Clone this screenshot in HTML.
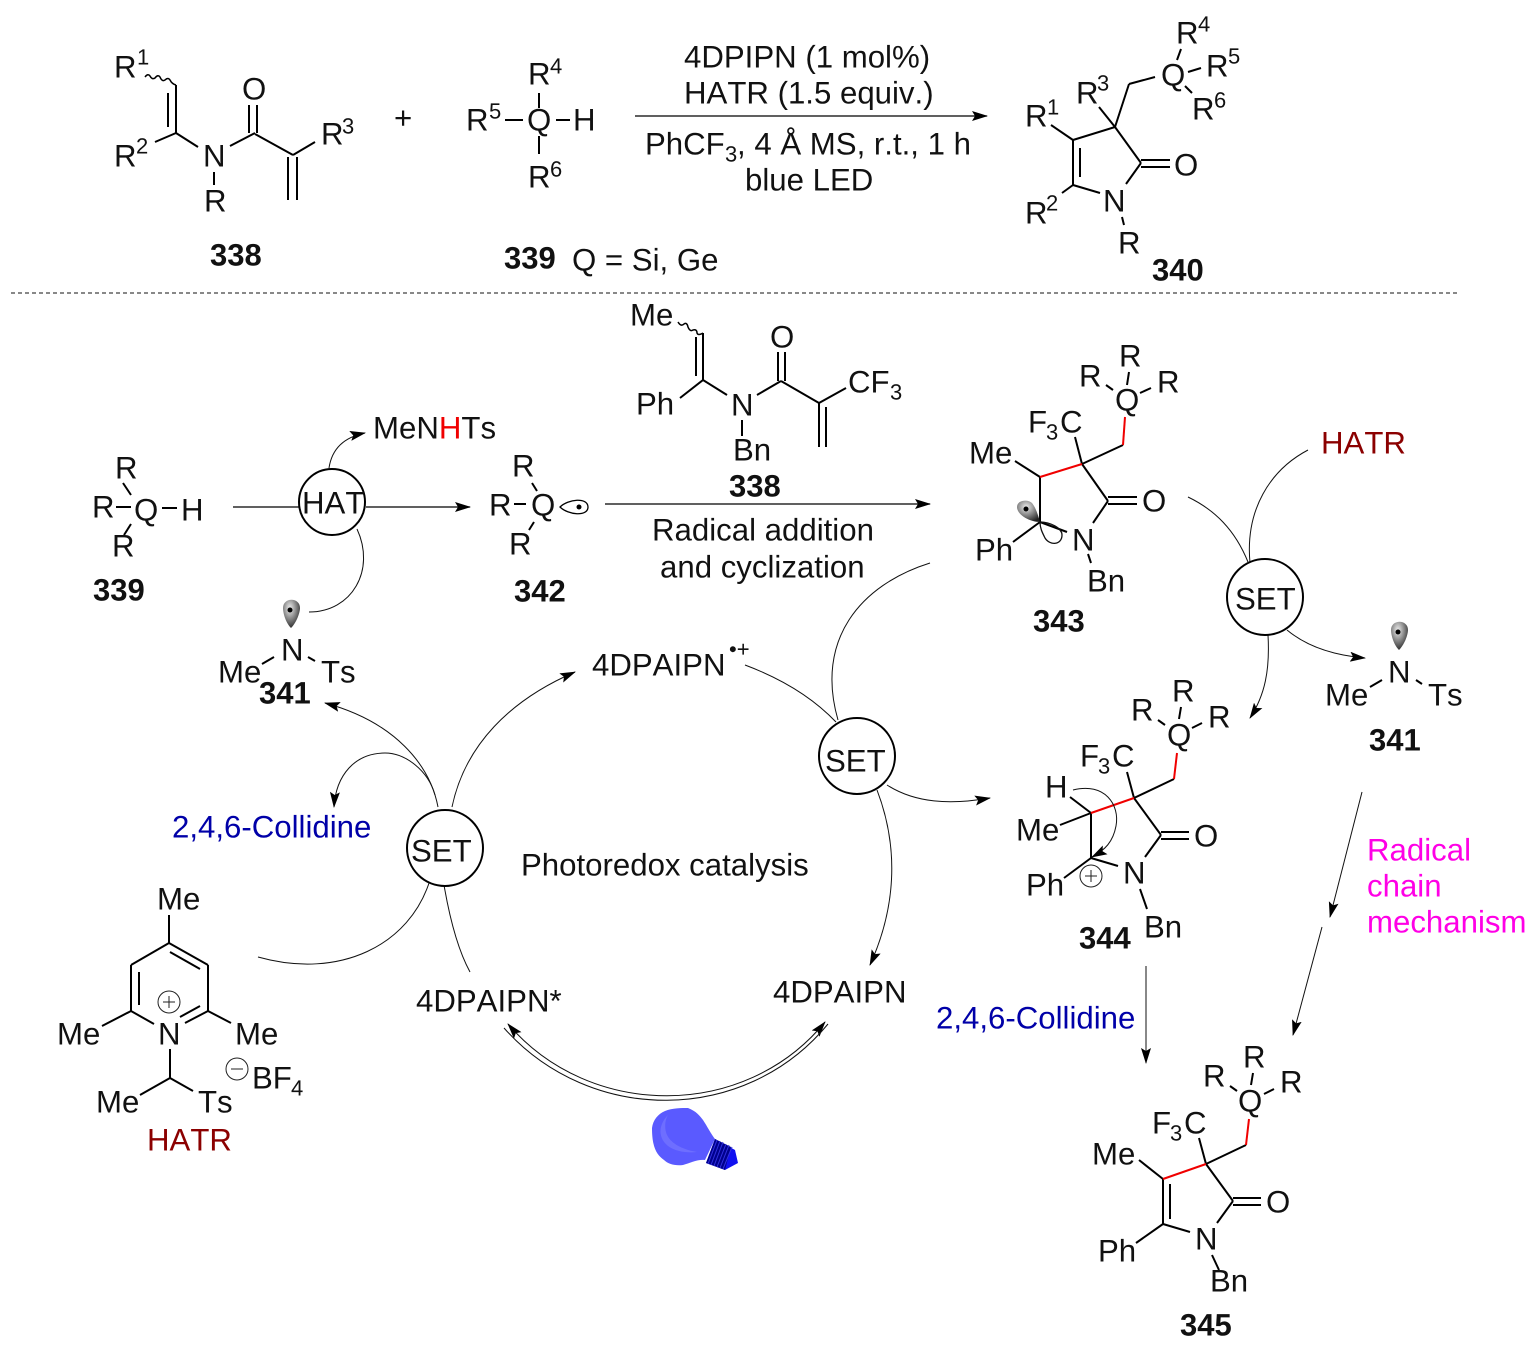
<!DOCTYPE html>
<html><head><meta charset="utf-8"><style>
html,body{margin:0;padding:0;background:#fff}
svg{display:block}
text{font-family:"Liberation Sans",sans-serif;font-size:31.2px;fill:#111;font-kerning:none;text-rendering:geometricPrecision;transform:translate(0px,0.4px)}
.b{font-weight:bold;font-size:31px}
.s{font-size:22px}
.k line,.k polyline{stroke:#000;stroke-width:2;fill:none}
.r line{stroke:#f00000;stroke-width:2;fill:none}
.t path,.t line{stroke:#111;stroke-width:1;fill:none}
.c{fill:#fff;stroke:#000;stroke-width:2}
</style></head><body>
<svg width="1536" height="1353" viewBox="0 0 1536 1353" xmlns="http://www.w3.org/2000/svg">
<defs>
<marker id="a" viewBox="0 0 16 10" refX="15" refY="5" markerWidth="16" markerHeight="10" markerUnits="userSpaceOnUse" orient="auto"><path d="M0,0 L16,5 L0,10 L3,5z" fill="#000"/></marker>
<marker id="as" viewBox="0 0 16 10" refX="15" refY="5" markerWidth="16" markerHeight="10" markerUnits="userSpaceOnUse" orient="auto-start-reverse"><path d="M0,0 L16,5 L0,10 L3,5z" fill="#000"/></marker>
<radialGradient id="g" cx="0.4" cy="0.3" r="0.75"><stop offset="0" stop-color="#eee"/><stop offset="1" stop-color="#222"/></radialGradient>
</defs>

<!-- Top reaction: 338 -->
<g class="k">
<line x1="176" y1="85" x2="176" y2="133"/><line x1="168" y1="93" x2="168" y2="127"/>
<line x1="176" y1="133" x2="155" y2="142"/><line x1="176" y1="133" x2="198" y2="147"/>
<line x1="214" y1="172" x2="214" y2="185"/><line x1="230" y1="146" x2="255" y2="133"/>
<line x1="249" y1="133" x2="249" y2="105"/><line x1="257" y1="133" x2="257" y2="105"/>
<line x1="255" y1="134" x2="293" y2="155"/><line x1="293" y1="155" x2="315" y2="142"/>
<line x1="288" y1="157" x2="288" y2="200"/><line x1="297" y1="157" x2="297" y2="200"/>
<line x1="505" y1="120" x2="523" y2="120"/><line x1="556" y1="120" x2="570" y2="120"/>
<line x1="539" y1="93" x2="539" y2="108"/><line x1="539" y1="136" x2="539" y2="154"/>
</g>
<path d="M145,77 q3,-4 5,-1 q2,4 5,2 q3,-4 5,-1 q2,5 5,3 q3,-3 5,0 q2,4 6,5" fill="none" stroke="#000" stroke-width="1.5"/>
<text x="114" y="77">R</text><text class="s" x="137" y="64">1</text>
<text x="114" y="166">R</text><text class="s" x="136" y="153">2</text>
<text x="203" y="166">N</text><text x="204" y="211">R</text><text x="242" y="99">O</text>
<text x="321" y="144">R</text><text class="s" x="342" y="133">3</text>
<text x="394" y="128">+</text>
<text class="b" x="210" y="265">338</text>

<text x="528" y="84">R</text><text class="s" x="550" y="73">4</text>
<text x="466" y="130">R</text><text class="s" x="489" y="118">5</text>
<text x="527" y="130">Q</text><text x="573" y="130">H</text>
<text x="528" y="187">R</text><text class="s" x="550" y="176">6</text>
<text class="b" x="504" y="268">339</text><text x="572" y="270">Q = Si, Ge</text>

<line x1="635" y1="116" x2="987" y2="116" stroke="#000" stroke-width="1.3" marker-end="url(#a)"/>
<text x="684" y="67">4DPIPN (1 mol%)</text>
<text x="684" y="103">HATR (1.5 equiv.)</text>
<text x="645" y="154">PhCF</text><text class="s" x="725" y="161">3</text><text x="737" y="154" xml:space="preserve">, 4 Å MS, r.t., 1 h</text>
<text x="745" y="190">blue LED</text>

<!-- 340 -->
<g class="k">
<line x1="1073" y1="140" x2="1115" y2="127"/><line x1="1115" y1="127" x2="1141" y2="163"/>
<line x1="1141" y1="160" x2="1170" y2="160"/><line x1="1141" y1="167" x2="1170" y2="167"/>
<line x1="1126" y1="184" x2="1141" y2="163"/><line x1="1100" y1="193" x2="1073" y2="185"/>
<line x1="1073" y1="185" x2="1073" y2="140"/><line x1="1080" y1="177" x2="1080" y2="148"/>
<line x1="1073" y1="185" x2="1062" y2="193"/><line x1="1073" y1="140" x2="1051" y2="125"/>
<line x1="1115" y1="127" x2="1099" y2="107"/><line x1="1115" y1="127" x2="1129" y2="84"/>
<line x1="1129" y1="84" x2="1155" y2="77"/><line x1="1181" y1="49" x2="1177" y2="60"/>
<line x1="1188" y1="72" x2="1201" y2="68"/><line x1="1185" y1="86" x2="1192" y2="93"/>
<line x1="1122" y1="217" x2="1124" y2="225"/>
</g>
<text x="1176" y="43">R</text><text class="s" x="1198" y="31">4</text>
<text x="1206" y="76">R</text><text class="s" x="1228" y="63">5</text>
<text x="1161" y="85">Q</text>
<text x="1192" y="119">R</text><text class="s" x="1214" y="107">6</text>
<text x="1076" y="103">R</text><text class="s" x="1097" y="90">3</text>
<text x="1025" y="126">R</text><text class="s" x="1047" y="114">1</text>
<text x="1174" y="175">O</text><text x="1103" y="211">N</text>
<text x="1025" y="223">R</text><text class="s" x="1046" y="210">2</text>
<text x="1118" y="253">R</text>
<text class="b" x="1152" y="280">340</text>

<line x1="11" y1="293" x2="1458" y2="293" stroke="#111" stroke-width="1" stroke-dasharray="4,3"/>

<!-- lower 338 -->
<g class="k">
<line x1="703" y1="333" x2="703" y2="380"/><line x1="696" y1="337" x2="696" y2="376"/>
<line x1="703" y1="380" x2="680" y2="398"/><line x1="703" y1="380" x2="727" y2="395"/>
<line x1="742" y1="420" x2="742" y2="436"/><line x1="757" y1="395" x2="781" y2="381"/>
<line x1="778" y1="381" x2="778" y2="352"/><line x1="785" y1="381" x2="785" y2="352"/>
<line x1="781" y1="381" x2="819" y2="403"/><line x1="819" y1="403" x2="846" y2="388"/>
<line x1="819" y1="403" x2="819" y2="447"/><line x1="826" y1="407" x2="826" y2="447"/>
</g>
<path d="M678,322 q3,5 6,2 q3,-2 4,3 q2,5 5,3 q4,-1 4,3 q1,3 6,0" fill="none" stroke="#000" stroke-width="1.5"/>
<text x="630" y="325">Me</text><text x="636" y="414">Ph</text><text x="731" y="415">N</text>
<text x="733" y="460">Bn</text><text x="770" y="347">O</text>
<text x="848" y="392">CF</text><text class="s" x="890" y="399">3</text>
<text class="b" x="729" y="496">338</text>

<line x1="605" y1="504" x2="930" y2="504" stroke="#000" stroke-width="1.3" marker-end="url(#a)"/>
<text x="652" y="540">Radical addition</text>
<text x="660" y="577">and cyclization</text>

<!-- left 339 -->
<g class="k">
<line x1="123" y1="483" x2="131" y2="495"/><line x1="116" y1="507" x2="131" y2="507"/>
<line x1="131" y1="524" x2="124" y2="535"/><line x1="162" y1="508" x2="177" y2="508"/>
</g>
<text x="115" y="478">R</text><text x="92" y="517">R</text><text x="134" y="520">Q</text>
<text x="181" y="520">H</text><text x="112" y="556">R</text>
<text class="b" x="93" y="600">339</text>

<line x1="233" y1="507" x2="300" y2="507" stroke="#000" stroke-width="1.3"/>
<line x1="366" y1="507" x2="470" y2="507" stroke="#000" stroke-width="1.3" marker-end="url(#a)"/>
<circle class="c" cx="332" cy="502" r="33"/>
<text x="302" y="513">HAT</text>
<g class="t">
<path d="M329,468 C332,448 345,437 365,433" marker-end="url(#a)"/>
<path d="M357,529 C376,570 352,612 309,612"/>
</g>
<text x="373" y="438">MeN<tspan style="fill:#f00000">H</tspan>Ts</text>

<!-- 342 -->
<g class="k">
<line x1="532" y1="483" x2="537" y2="491"/><line x1="514" y1="504" x2="526" y2="504"/>
<line x1="534" y1="522" x2="529" y2="530"/>
</g>
<text x="512" y="476">R</text><text x="489" y="515">R</text><text x="531" y="515">Q</text><text x="509" y="554">R</text>
<path d="M560,507 C568,499 588,497 588,507 C588,517 568,515 560,507z" fill="#fff" stroke="#000" stroke-width="1.3"/>
<circle cx="579" cy="507" r="2.5" fill="#000"/>
<text class="b" x="514" y="601">342</text>

<!-- 341 left -->
<path d="M291,628 C285,622 283,612 283,608 C283,597 300,597 300,608 C300,612 297,622 291,628z" fill="url(#g)"/>
<circle cx="290" cy="610" r="2.5" fill="#000"/>
<g class="k"><line x1="262" y1="664" x2="274" y2="657"/><line x1="308" y1="657" x2="315" y2="661"/></g>
<text x="281" y="660">N</text><text x="218" y="682">Me</text><text x="321" y="682">Ts</text>
<text class="b" x="259" y="703">341</text>

<!-- Photoredox cycle -->
<g class="t">
<path d="M438,807 C430,765 395,722 325,703" marker-end="url(#a)"/>
<path d="M435,795 C428,770 405,753 385,753 C355,753 336,775 334,807" marker-end="url(#a)"/>
<path d="M452,807 C465,745 510,700 575,672" marker-end="url(#a)"/>
<path d="M745,665 C785,680 815,700 836,722"/>
<path d="M930,563 C860,585 815,640 838,720"/>
<path d="M887,785 C915,803 950,805 990,798" marker-end="url(#a)"/>
<path d="M877,790 C900,850 895,910 870,965" marker-end="url(#a)"/>
<path d="M430,880 C410,945 340,980 258,957"/>
<path d="M444,885 C450,920 458,950 470,972"/>
<path d="M508,1024 C590,1120 745,1120 825,1022" marker-start="url(#as)" marker-end="url(#a)"/>
<path d="M504,1028 C590,1125 745,1125 828,1024"/>
</g>
<circle class="c" cx="445" cy="848" r="38"/><text x="411" y="861">SET</text>
<circle class="c" cx="857" cy="756" r="38"/><text x="825" y="771">SET</text>
<text x="592" y="675">4DPAIPN</text><text class="s" x="729" y="656">•+</text>
<text x="172" y="837" style="fill:#0000a8">2,4,6-Collidine</text>
<text x="521" y="875">Photoredox catalysis</text>
<text x="416" y="1011">4DPAIPN*</text><text x="773" y="1002">4DPAIPN</text>

<!-- bulb -->
<path d="M652,1128 C653,1120 658,1114 665,1111 C672,1108 682,1108 688,1108 C696,1111 700,1116 703,1120 C707,1126 711,1134 715,1139 L705,1160 C698,1159 690,1163 683,1165 C675,1166 668,1164 664,1160 C657,1155 652,1148 652,1128z" fill="#5a5aff"/>
<path d="M668,1115 C658,1125 658,1138 668,1146 C676,1152 688,1153 697,1152 C685,1150 672,1145 667,1135 C664,1128 665,1120 668,1115z" fill="#6e6eff"/>
<path d="M715,1139 L735,1150 L738,1163 L725,1170 L706,1163z" fill="#1010f0"/>
<path d="M715,1139 L731,1147 L725,1170 L706,1163z" fill="#00008c"/>
<path d="M717,1140 L708,1164 M720,1141 L711,1165 M723,1142 L714,1166 M726,1144 L717,1167 M729,1145 L720,1168 M732,1147 L723,1169" stroke="#3030e0" stroke-width="1"/>

<!-- pyridinium HATR -->
<g class="k">
<line x1="169" y1="915" x2="169" y2="943"/><line x1="169" y1="943" x2="208" y2="965"/><line x1="170" y1="952" x2="200" y2="969"/>
<line x1="208" y1="965" x2="208" y2="1011"/><line x1="169" y1="943" x2="131" y2="965"/>
<line x1="131" y1="965" x2="131" y2="1011"/><line x1="139" y1="972" x2="139" y2="1005"/>
<line x1="208" y1="1011" x2="185" y2="1023"/><line x1="200" y1="1006" x2="180" y2="1017"/>
<line x1="131" y1="1011" x2="154" y2="1024"/><line x1="208" y1="1011" x2="231" y2="1023"/>
<line x1="131" y1="1011" x2="102" y2="1026"/><line x1="170" y1="1049" x2="170" y2="1078"/>
<line x1="170" y1="1078" x2="140" y2="1095"/><line x1="170" y1="1078" x2="193" y2="1091"/>
</g>
<text x="157" y="909">Me</text><text x="158" y="1044">N</text>
<text x="57" y="1044">Me</text><text x="235" y="1044">Me</text>
<text x="96" y="1112">Me</text><text x="198" y="1112">Ts</text>
<text x="147" y="1150" style="fill:#8b0000">HATR</text>
<text x="252" y="1088">BF</text><text class="s" x="291" y="1095">4</text>
<g fill="none" stroke="#222" stroke-width="1">
<circle cx="169" cy="1002" r="11"/><path d="M163,1002H175M169,996V1008"/>
<circle cx="237" cy="1069" r="11"/><path d="M231,1069H243"/>
</g>

<!-- 343 -->
<g class="k">
<line x1="1129" y1="372" x2="1127" y2="385"/><line x1="1106" y1="385" x2="1113" y2="390"/>
<line x1="1140" y1="393" x2="1151" y2="388"/><line x1="1123" y1="445" x2="1082" y2="464"/>
<line x1="1075" y1="437" x2="1082" y2="464"/><line x1="1015" y1="461" x2="1040" y2="477"/>
<line x1="1040" y1="477" x2="1040" y2="522"/><line x1="1082" y1="464" x2="1108" y2="501"/>
<line x1="1108" y1="497" x2="1137" y2="497"/><line x1="1108" y1="504" x2="1137" y2="504"/>
<line x1="1108" y1="501" x2="1093" y2="523"/><line x1="1040" y1="522" x2="1067" y2="532"/>
<line x1="1040" y1="522" x2="1013" y2="542"/><line x1="1088" y1="554" x2="1091" y2="563"/>
</g>
<g class="r"><line x1="1125" y1="417" x2="1123" y2="445"/><line x1="1082" y1="464" x2="1040" y2="477"/></g>
<path d="M1040,522 C1030,522 1017,515 1017,507 C1017,500 1028,499 1032,503 C1036,508 1038,515 1040,522z" fill="url(#g)"/>
<circle cx="1026" cy="509" r="2.5" fill="#000"/>
<path d="M1040,522 C1050,522 1062,528 1062,535 C1062,545 1050,546 1045,538 C1042,532 1040,528 1040,522z" fill="none" stroke="#111" stroke-width="1.3"/>
<text x="1119" y="366">R</text><text x="1079" y="386">R</text><text x="1157" y="392">R</text><text x="1115" y="410">Q</text>
<text x="1028" y="432">F</text><text class="s" x="1046" y="439">3</text><text x="1060" y="432">C</text>
<text x="969" y="463">Me</text><text x="1142" y="511">O</text><text x="1072" y="550">N</text>
<text x="975" y="560">Ph</text><text x="1087" y="591">Bn</text>
<text class="b" x="1033" y="631">343</text>

<!-- SET right upper -->
<g class="t">
<path d="M1188,497 C1215,510 1235,530 1248,562"/>
<path d="M1308,450 C1270,470 1245,510 1250,563"/>
<path d="M1268,635 C1270,670 1265,695 1250,718" marker-end="url(#a)"/>
<path d="M1287,630 C1305,645 1330,655 1365,658" marker-end="url(#a)"/>
</g>
<circle class="c" cx="1265" cy="597" r="38"/><text x="1235" y="609">SET</text>
<text x="1321" y="453" style="fill:#8b0000">HATR</text>

<!-- 341 right -->
<path d="M1399,650 C1393,644 1391,634 1391,630 C1391,619 1408,619 1408,630 C1408,634 1405,644 1399,650z" fill="url(#g)"/>
<circle cx="1398" cy="632" r="2.5" fill="#000"/>
<g class="k"><line x1="1370" y1="687" x2="1382" y2="680"/><line x1="1416" y1="680" x2="1422" y2="684"/></g>
<text x="1388" y="682">N</text><text x="1325" y="705">Me</text><text x="1428" y="705">Ts</text>
<text class="b" x="1369" y="750">341</text>

<!-- 344 -->
<g class="k">
<line x1="1181" y1="707" x2="1179" y2="719"/><line x1="1158" y1="720" x2="1165" y2="725"/>
<line x1="1192" y1="728" x2="1202" y2="723"/><line x1="1174" y1="779" x2="1134" y2="798"/>
<line x1="1127" y1="772" x2="1134" y2="798"/><line x1="1070" y1="797" x2="1091" y2="813"/>
<line x1="1060" y1="825" x2="1091" y2="813"/><line x1="1091" y1="813" x2="1091" y2="858"/>
<line x1="1134" y1="798" x2="1161" y2="835"/><line x1="1161" y1="832" x2="1189" y2="832"/>
<line x1="1161" y1="839" x2="1189" y2="839"/><line x1="1161" y1="835" x2="1145" y2="857"/>
<line x1="1091" y1="858" x2="1118" y2="866"/><line x1="1091" y1="858" x2="1064" y2="878"/>
<line x1="1140" y1="889" x2="1147" y2="909"/>
</g>
<g class="r"><line x1="1177" y1="753" x2="1174" y2="779"/><line x1="1134" y1="798" x2="1091" y2="813"/></g>
<path d="M1073,790 C1105,782 1120,805 1116,826 C1113,842 1105,850 1092,857" fill="none" stroke="#111" stroke-width="1" marker-end="url(#a)"/>
<text x="1172" y="701">R</text><text x="1131" y="720">R</text><text x="1208" y="727">R</text><text x="1167" y="745">Q</text>
<text x="1080" y="766">F</text><text class="s" x="1098" y="773">3</text><text x="1112" y="766">C</text>
<text x="1045" y="797">H</text><text x="1016" y="840">Me</text><text x="1194" y="846">O</text>
<text x="1123" y="883">N</text><text x="1026" y="895">Ph</text><text x="1144" y="937">Bn</text>
<text class="b" x="1079" y="948">344</text>
<g fill="none" stroke="#222" stroke-width="1"><circle cx="1091" cy="876" r="11"/><path d="M1085,876H1097M1091,870V882"/></g>

<!-- Right arrows -->
<line x1="1362" y1="792" x2="1330" y2="917" stroke="#111" stroke-width="1" marker-end="url(#a)"/>
<line x1="1322" y1="927" x2="1293" y2="1035" stroke="#111" stroke-width="1" marker-end="url(#a)"/>
<line x1="1146" y1="966" x2="1146" y2="1063" stroke="#111" stroke-width="1" marker-end="url(#a)"/>
<text x="1367" y="860" style="fill:#ff00e6">Radical</text><text x="1367" y="896" style="fill:#ff00e6">chain</text><text x="1367" y="932" style="fill:#ff00e6">mechanism</text>
<text x="936" y="1028" style="fill:#0000a8">2,4,6-Collidine</text>

<!-- 345 -->
<g class="k">
<line x1="1253" y1="1073" x2="1251" y2="1085"/><line x1="1230" y1="1086" x2="1237" y2="1091"/>
<line x1="1264" y1="1094" x2="1274" y2="1089"/><line x1="1246" y1="1145" x2="1206" y2="1164"/>
<line x1="1199" y1="1138" x2="1206" y2="1164"/><line x1="1163" y1="1179" x2="1139" y2="1160"/>
<line x1="1163" y1="1179" x2="1163" y2="1224"/><line x1="1170" y1="1184" x2="1170" y2="1219"/>
<line x1="1163" y1="1224" x2="1136" y2="1243"/><line x1="1163" y1="1224" x2="1190" y2="1232"/>
<line x1="1206" y1="1164" x2="1233" y2="1201"/><line x1="1233" y1="1198" x2="1261" y2="1198"/>
<line x1="1233" y1="1205" x2="1261" y2="1205"/><line x1="1233" y1="1201" x2="1217" y2="1223"/>
<line x1="1212" y1="1255" x2="1219" y2="1270"/>
</g>
<g class="r"><line x1="1249" y1="1119" x2="1246" y2="1145"/><line x1="1206" y1="1164" x2="1163" y2="1179"/></g>
<text x="1243" y="1067">R</text><text x="1203" y="1086">R</text><text x="1280" y="1092">R</text><text x="1238" y="1111">Q</text>
<text x="1152" y="1133">F</text><text class="s" x="1170" y="1140">3</text><text x="1184" y="1133">C</text>
<text x="1092" y="1164">Me</text><text x="1266" y="1212">O</text><text x="1195" y="1249">N</text>
<text x="1098" y="1261">Ph</text><text x="1210" y="1291">Bn</text>
<text class="b" x="1180" y="1335">345</text>
</svg>
</body></html>
